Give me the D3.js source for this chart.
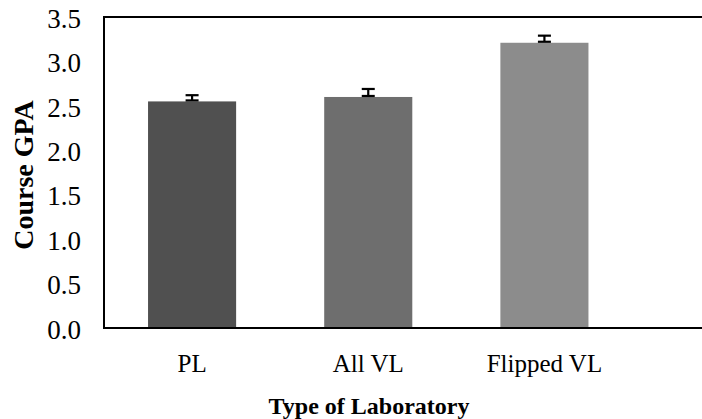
<!DOCTYPE html>
<html><head><meta charset="utf-8">
<script src="https://cdn.jsdelivr.net/npm/d3@7"></script>
<style>body{margin:0;background:#fff}svg{display:block}</style>
</head><body>
<script>
const categories = ["PL", "All VL", "Flipped VL"];
const gpaValues = [2.55, 2.60, 3.21];
const gpaErrors = [0.07, 0.09, 0.08];
const barColors = ["#505050", "#6e6e6e", "#8c8c8c"];
const yTicks = [0, 0.5, 1.0, 1.5, 2.0, 2.5, 3.0, 3.5];

const W = 702, H = 419;
const m = {left: 104, top: 17, bottom: 328};
const svg = d3.select("body").append("svg").attr("width", W).attr("height", H);
const font = "'Liberation Serif','Times New Roman',serif";

const x = d3.scaleBand().domain(categories).range([104, 632.5]).padding(0.5).paddingOuter(0.25);
const y = d3.scaleLinear().domain([0, 3.5]).range([m.bottom, m.top]);

svg.selectAll("rect.bar").data(categories).enter().append("rect")
  .attr("x", d => x(d)).attr("width", x.bandwidth())
  .attr("y", (d,i) => y(gpaValues[i])).attr("height", (d,i) => y(0) - y(gpaValues[i]))
  .attr("fill", (d,i) => barColors[i]);

// error bars (plus direction)
const eb = svg.selectAll("g.eb").data(categories).enter().append("g")
  .attr("stroke", "#000").attr("stroke-width", 2.2);
const cx = d => x(d) + x.bandwidth()/2;
eb.append("line").attr("x1", cx).attr("x2", cx)
  .attr("y1", (d,i) => y(gpaValues[i]) - 1).attr("y2", (d,i) => y(gpaValues[i] + gpaErrors[i]));
eb.append("line").attr("x1", d => cx(d) - 6.5).attr("x2", d => cx(d) + 6.5)
  .attr("y1", (d,i) => y(gpaValues[i] + gpaErrors[i])).attr("y2", (d,i) => y(gpaValues[i] + gpaErrors[i]));
eb.append("line").attr("x1", d => cx(d) - 6.5).attr("x2", d => cx(d) + 6.5)
  .attr("y1", (d,i) => y(gpaValues[i]) - 1).attr("y2", (d,i) => y(gpaValues[i]) - 1);

// frame
svg.append("path").attr("d", `M${W},${y(3.5)}H${m.left}V${y(0)}H${W}`)
  .attr("fill", "none").attr("stroke", "#000").attr("stroke-width", 2);

// y axis labels
const yAxis = d3.axisLeft(y).tickValues(yTicks).tickFormat(d3.format(".1f")).tickSize(0).tickPadding(23);
const ya = svg.append("g").attr("transform", `translate(${m.left},0)`).call(yAxis);
ya.select(".domain").remove();
ya.selectAll("text").attr("font-family", font).attr("font-size", 27).attr("fill", "#000").attr("dy", "0.38em");

// x axis labels
const xAxis = d3.axisBottom(x).tickSize(0).tickPadding(0);
const xa = svg.append("g").attr("transform", `translate(0,${m.bottom})`).call(xAxis);
xa.select(".domain").remove();
xa.selectAll("text").attr("font-family", font).attr("font-size", 25).attr("fill", "#000")
  .attr("y", 44).attr("dy", 0);

svg.append("text").attr("x", 369).attr("y", 414).attr("text-anchor", "middle")
  .attr("font-family", font).attr("font-size", 24).attr("font-weight", "bold").text("Type of Laboratory");
svg.append("text").attr("transform", "translate(33,175) rotate(-90)").attr("text-anchor", "middle")
  .attr("font-family", font).attr("font-size", 28).attr("font-weight", "bold").text("Course GPA");
</script>
</body></html>
